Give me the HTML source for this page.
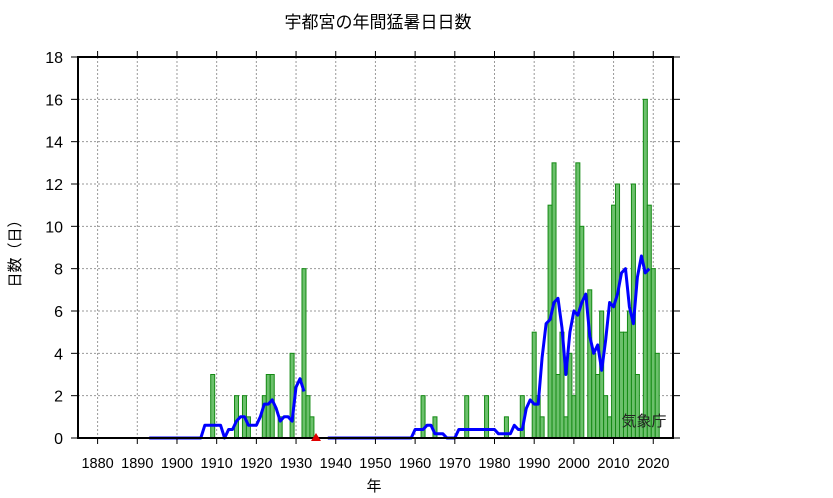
<!DOCTYPE html>
<html><head><meta charset="utf-8"><style>
html,body{margin:0;padding:0;background:#fff;}
svg{display:block;font-family:"Liberation Sans","Noto Sans CJK JP",sans-serif;}
</style></head><body>
<svg id="chart" width="833" height="498" viewBox="0 0 833 498">
<text x="378" y="28" font-size="17" text-anchor="middle">宇都宮の年間猛暑日日数</text>
<text transform="translate(20,250) rotate(-90)" font-size="15" text-anchor="middle">日数（日）</text>
<text x="374" y="491" font-size="15" text-anchor="middle">年</text>
<g id="grid"></g>
<g id="bars"></g>
<g id="lines"></g>
<rect x="78" y="57" width="595" height="381" fill="none" stroke="#000" stroke-width="2"/>
<g id="ticks"></g>
<polygon points="316,433 311,441 321,441" fill="#e00000"/>
<text x="644" y="426" font-size="15" text-anchor="middle" fill="#222">気象庁</text>
</svg>
<script>
const preYears = [1891, 1934];
const preValues = [0,0,0,0,0,0,0,0,0,0, 0,0,0,0,0,0,0,0,3,0, 0,0,0,0,2,0,2,1,0,0, 0,2,3,3,0,1,0,0,4,0, 0,8,2,1];
const postYears = [1936, 2021];
const postValues = [
0,0,0,0,0,0,0,0,0,0, // 1936-1945
0,0,0,0,0,0,0,0,0,0, // 1946-1955
0,0,0,0,0,0,2,0,0,1, // 1956-1965
0,0,0,0,0,0,0,2,0,0, // 1966-1975
0,0,2,0,0,0,0,1,0,0, // 1976-1985
0,2,0,0,5,2,1,0,11,13, // 1986-1995
3,5,1,4,2,13,10,0,7,4, // 1996-2005
3,6,2,1,11,12,5,5,6,12, // 2006-2015
3,1,16,11,8,4 // 2016-2021
];
const yTicks = [0,2,4,6,8,10,12,14,16,18];
const xTicks = [1880,1890,1900,1910,1920,1930,1940,1950,1960,1970,1980,1990,2000,2010,2020];

const NS = "http://www.w3.org/2000/svg";
const X0 = 78, X1 = 673, Y0 = 438, Y1 = 57;
function xScale(yr){ return 97.6 + (yr - 1880) * 3.969; }
function yScale(v){ return Y0 - (v / 18) * (Y0 - Y1); }
function mk(tag, attrs, parent){ const e = document.createElementNS(NS, tag); for (const k in attrs) e.setAttribute(k, attrs[k]); parent.appendChild(e); return e; }

const grid = document.getElementById('grid');
const ticks = document.getElementById('ticks');
yTicks.forEach(v => {
  const y = yScale(v);
  if (v > 0 && v < 18) {
    const g = mk('line', {x1:X0, x2:X1, y1:y, y2:y, stroke:'#999', 'stroke-width':1, 'stroke-dasharray':'2,2'}, grid);
    
    
  }
  const t = mk('line', {x1:X0-7, x2:X0, y1:y, y2:y, stroke:'#000', 'stroke-width':1}, ticks);
  
  
  const t2 = mk('line', {x1:X1, x2:X1+7, y1:y, y2:y, stroke:'#000', 'stroke-width':1}, ticks);
  
  
  const lb = mk('text', {x:X0-15, y:y+6, 'font-size':16, 'text-anchor':'end'}, ticks);
  lb.textContent = v;
  
  
});
xTicks.forEach(yr => {
  const x = xScale(yr);
  const g = mk('line', {x1:x, x2:x, y1:Y1, y2:Y0, stroke:'#999', 'stroke-width':1, 'stroke-dasharray':'2,2'}, grid);
  
  
  const t = mk('line', {x1:x, x2:x, y1:Y0, y2:Y0+6, stroke:'#000', 'stroke-width':1}, ticks);
  
  
  const t2 = mk('line', {x1:x, x2:x, y1:Y1-6, y2:Y1, stroke:'#000', 'stroke-width':1}, ticks);
  
  
  const lb = mk('text', {x:x, y:468, 'font-size':14.5, 'text-anchor':'middle'}, ticks);
  lb.textContent = yr;
  
  
});

const bars = document.getElementById('bars');
const lines = document.getElementById('lines');
function drawSeg(range, vals){
  vals.forEach((v, i) => {
    if (v <= 0) return;
    const yr = range[0] + i;
    const x = xScale(yr);
    const r = mk('rect', {x:x-2, y:yScale(v), width:4, height:Y0-yScale(v), fill:'#6cc06c', stroke:'#148a14', 'stroke-width':1}, bars);
    
    
  });
  const pts = [];
  for (let i = 2; i < vals.length - 2; i++) {
    let s = 0; for (let k = -2; k <= 2; k++) s += vals[i+k];
    pts.push(xScale(range[0]+i).toFixed(1) + ',' + yScale(s/5).toFixed(1));
  }
  const p = mk('polyline', {points:pts.join(' '), fill:'none', stroke:'#0000ff', 'stroke-width':3, 'stroke-linejoin':'round'}, lines);
  
  
}
drawSeg(preYears, preValues);
drawSeg(postYears, postValues);
</script>
</body></html>
